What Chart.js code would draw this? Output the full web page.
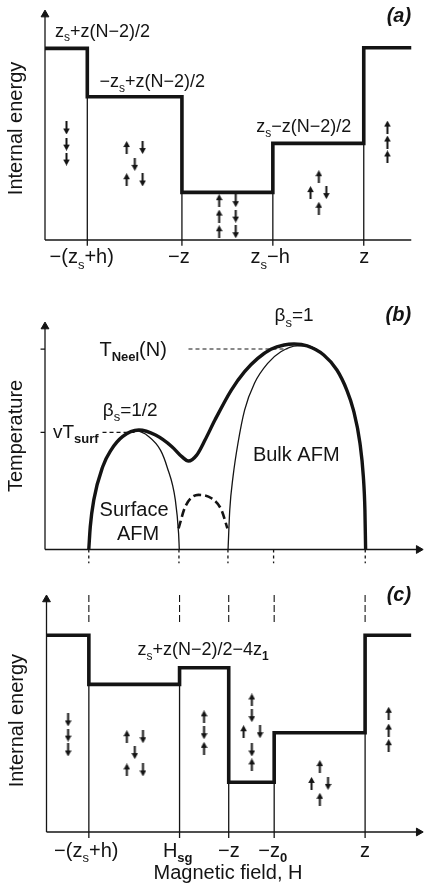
<!DOCTYPE html>
<html lang="en">
<head>
<meta charset="UTF-8">
<title>Internal energy and temperature vs magnetic field</title>
<script src="https://cdn.jsdelivr.net/npm/chart.js"></script>
<style>
  body { margin: 0; background: #fff; }
  .panel { position: absolute; left: 0; }
</style>
</head>
<body>
<canvas id="chartA" class="panel" style="top:0" width="429" height="280"></canvas>
<canvas id="chartB" class="panel" style="top:280px" width="429" height="290"></canvas>
<canvas id="chartC" class="panel" style="top:570px" width="429" height="318"></canvas>
<script>
// ---- panel (a): internal energy steps ----
const aEdges = [0, 11.4, 36.9, 61.4, 85.9, 98.7];
const aLevels = [8.33, 6.23, 2.07, 4.2, 8.36];
const aTickPos = [9.9, 36.1, 60.7, 86];
const aTickLabels = ['−(z_{s}+h)', '−z', 'z_{s}−h', 'z'];
const aUp = [[22.0, 4.02], [22.0, 2.62], [46.93, 1.71], [46.93, 1.04], [46.93, 0.36],
             [73.79, 2.75], [71.55, 2.06], [73.79, 1.38], [92.27, 4.91], [92.27, 4.26], [92.27, 3.61]];
const aDown = [[5.79, 4.87], [5.79, 4.17], [5.79, 3.52], [26.3, 4.02], [24.19, 3.29], [26.3, 2.61],
               [51.39, 1.71], [51.39, 1.04], [51.39, 0.36], [75.81, 2.06]];
const aNotes = [
  {x: 2.67, y: 9.06, text: 'z_{s}+z(N−2)/2', size: 18},
  {x: 14.67, y: 6.88, text: '−z_{s}+z(N−2)/2', size: 18},
  {x: 56.9, y: 4.9, text: 'z_{s}−z(N−2)/2', size: 18},
  {x: 98.67, y: 9.71, text: '(a)', size: 20, align: 'right', style: 'italic bold'}
];

// ---- panel (b): temperature phase diagram ----
const bSurfX = [11.8, 12.2, 13.15, 15.55, 17.79, 20.88, 24.45, 28.0, 31.12, 32.88, 35.12, 36.0, 36.19];
const bSurfY = [0, 1.0, 2.18, 3.64, 4.37, 4.96, 5.21, 4.96, 4.37, 3.64, 2.18, 0.71, 0];
const bBulkX = [49.33, 49.79, 50.67, 52.0, 53.79, 56.45, 60.0, 63.55, 68.0, 70.67, 75.12, 78.67, 81.33, 83.12, 84.88, 85.79, 86.21, 86.4];
const bBulkY = [0, 1.74, 3.2, 4.67, 6.13, 7.31, 8.18, 8.69, 8.95, 8.95, 8.55, 7.89, 7.01, 6.13, 4.67, 3.2, 1.74, 0];
const bEnvX = [11.8, 12.2, 13.15, 15.55, 17.79, 20.88, 25.3, 29.79, 34.21, 36.88, 38.67, 40.88, 43.12, 45.79, 50.21,
               53.79, 57.33, 60.88, 64.45, 67.12, 70.67, 75.12, 78.67, 81.33, 83.12, 84.88, 85.79, 86.21, 86.4];
const bEnvY = [0, 1.0, 2.18, 3.64, 4.37, 4.96, 5.25, 5.03, 4.52, 4.08, 3.89, 4.15, 4.81, 5.69, 7.01,
               7.82, 8.4, 8.8, 8.99, 9.03, 8.95, 8.55, 7.89, 7.01, 6.13, 4.67, 3.2, 1.74, 0];
const bSgX = [36.0, 37.79, 41.33, 44.88, 47.55, 49.15];
const bSgY = [0.93, 1.88, 2.4, 2.25, 1.74, 0.93];
const bTicks = [11.8, 36.1, 49.3, 61.6, 86.3];
const bLevelY = [5.15, 8.81];
const bSurfRef = [15.5, 24.4];
const bNeelRef = [38.67, 65.3];
const bNotes = [
  {x: 67.1, y: 10.26, text: 'β_{s}=1', size: 19, align: 'center'},
  {x: 98.67, y: 10.29, text: '(b)', size: 20, align: 'right', style: 'italic bold'},
  {x: 14.67, y: 8.75, text: 'T_[Neel](N)', size: 20},
  {x: 15.56, y: 6.12, text: 'β_{s}=1/2', size: 19},
  {x: 2.13, y: 5.15, text: 'vT_[surf]', size: 19},
  {x: 67.7, y: 4.15, text: 'Bulk AFM', size: 20, align: 'center'},
  {x: 24.0, y: 1.71, text: 'Surface', size: 20, align: 'center'},
  {x: 25.07, y: 0.64, text: 'AFM', size: 20, align: 'center'}
];

// ---- panel (c): internal energy with spin-flop step ----
const cEdges = [0, 11.46, 36.0, 49.3, 61.6, 86.2, 98.66];
const cLevels = [8.3, 6.23, 6.93, 2.1, 4.19, 8.3];
const cTickPos = [10.76, 35.5, 49.35, 61.2, 86.2];
const cTickLabels = ['−(z_{s}+h)', 'H_[sg]', '−z', '−z_[0]', 'z'];
const cUp = [[21.74, 4.02], [21.74, 2.62], [42.62, 4.86], [42.62, 3.53], [55.56, 5.57], [53.33, 4.23], [55.56, 2.83],
             [73.95, 2.76], [71.7, 2.05], [73.95, 1.38], [92.58, 5.01], [92.58, 4.3], [92.58, 3.64]];
const cDown = [[5.84, 4.73], [5.84, 4.09], [5.84, 3.46], [26.1, 4.02], [23.88, 3.35], [26.1, 2.62], [42.62, 4.19],
               [55.56, 4.91], [57.78, 4.23], [55.56, 3.46], [76.17, 2.05]];
const cNotes = [
  {x: 24.6, y: 7.68, text: 'z_{s}+z(N−2)/2−4z_[1]', size: 18},
  {x: 98.66, y: 9.96, text: '(c)', size: 20, align: 'right', style: 'italic bold'},
  {x: 49.1, y: -1.73, text: 'Magnetic field, H', size: 20, align: 'center'}
];

const INK = '#141414';
const FONT = '"Liberation Sans", Arial, Helvetica, sans-serif';

function arrowImage(up) {
  const c = document.createElement('canvas');
  c.width = 7; c.height = 13;
  const g = c.getContext('2d');
  g.fillStyle = INK;
  if (!up) { g.translate(0, 13); g.scale(1, -1); }
  g.beginPath();
  g.moveTo(3.5, 0); g.lineTo(6.8, 6); g.lineTo(0.2, 6);
  g.closePath(); g.fill();
  g.fillRect(2.5, 5, 2, 8);
  return c;
}
const upArrow = arrowImage(true);
const downArrow = arrowImage(false);

const pts = arr => arr.map(([x, y]) => ({x, y}));
const zip = (xs, ys) => xs.map((x, i) => ({x, y: ys[i]}));

function stepPoints(edges, levels) {
  return edges.map((x, i) => ({x, y: levels[Math.min(i, levels.length - 1)]}));
}
// vertical segments, split with null gaps
function verticals(xs, y0, tops) {
  const out = [];
  xs.forEach((x, i) => {
    out.push({x, y: y0}, {x, y: Array.isArray(tops) ? tops[i] : tops}, {x, y: null});
  });
  return out;
}
function hsegs(ys, x0, x1) {
  const out = [];
  ys.forEach(y => out.push({x: x0, y}, {x: x1, y}, {x: null, y: null}));
  return out;
}
function dividers(edges, levels) {
  const inner = edges.slice(1, levels.length);
  return verticals(inner, -0.25, inner.map((x, i) => Math.min(levels[i], levels[i + 1])));
}

function line(data, width, extra) {
  return Object.assign({data, borderColor: INK, backgroundColor: INK, borderWidth: width, pointRadius: 0,
    fill: false, clip: false, spanGaps: false, tension: 0}, extra);
}
function arrows(data, img) {
  return {data: pts(data), showLine: false, pointStyle: img, pointRadius: 4, clip: false};
}
function axisLine(data, rotations) {
  return line(data, 1.3, {pointRadius: data.map((p, i) => i === 0 ? 0 : 4.5), pointStyle: 'triangle',
    pointRotation: rotations, pointBackgroundColor: INK, pointBorderColor: INK, pointBorderWidth: 1});
}

function richText(ctx, px, py, text, size, align, style) {
  const parts = [];
  const re = /_([{\[])(.*?)[}\]]/g;
  let last = 0, m;
  while ((m = re.exec(text)) !== null) {
    if (m.index > last) parts.push({t: text.slice(last, m.index)});
    parts.push({t: m[2], sub: true, bold: m[1] === '['});
    last = re.lastIndex;
  }
  if (last < text.length) parts.push({t: text.slice(last)});
  const subSize = Math.round(size * 0.66);
  const fontOf = p => p.sub ? `${p.bold ? 'bold ' : ''}${subSize}px ${FONT}` : `${style || ''} ${size}px ${FONT}`;
  let total = 0;
  parts.forEach(p => { ctx.font = fontOf(p); p.w = ctx.measureText(p.t).width; total += p.w; });
  let x = align === 'center' ? px - total / 2 : align === 'right' ? px - total : px;
  ctx.textAlign = 'left';
  ctx.textBaseline = 'middle';
  ctx.fillStyle = INK;
  parts.forEach(p => {
    ctx.font = fontOf(p);
    ctx.fillText(p.t, x, p.sub ? py + size * 0.36 : py);
    x += p.w;
  });
}

function textLayer(items, title) {
  return {
    id: 'textLayer',
    afterDatasetsDraw(chart) {
      const {ctx, scales: {x, y}} = chart;
      ctx.save();
      items.forEach(it => richText(ctx, x.getPixelForValue(it.x), y.getPixelForValue(it.y),
        it.text, it.size || 18, it.align || 'left', it.style));
      if (title) {
        ctx.translate(x.getPixelForValue(title.x), y.getPixelForValue(title.y));
        ctx.rotate(-Math.PI / 2);
        richText(ctx, 0, 0, title.text, 20, 'center');
      }
      ctx.restore();
    }
  };
}

function options(pad) {
  return {
    responsive: false,
    animation: false,
    events: [],
    layout: {padding: pad},
    plugins: {legend: {display: false}, tooltip: {enabled: false}},
    scales: {
      x: {type: 'linear', min: 0, max: 102, display: false},
      y: {type: 'linear', min: 0, max: 10, display: false}
    }
  };
}

function tickNotes(pos, labels, y) {
  return pos.map((x, i) => ({x, y, text: labels[i], size: 20, align: 'center'}));
}

// (a)
new Chart(document.getElementById('chartA'), {
  type: 'line',
  data: {
    datasets: [
      axisLine([{x: 0, y: 0}, {x: 0, y: 9.8}], [0, 0]),
      line([{x: 0, y: 0}, {x: 98.7, y: 0}], 1.3),
      line(dividers(aEdges, aLevels), 1.3),
      line(stepPoints(aEdges, aLevels), 3.6, {stepped: 'before', borderJoinStyle: 'miter'}),
      arrows(aUp, upArrow),
      arrows(aDown, downArrow)
    ]
  },
  options: options({left: 45, right: 1.5, top: 10, bottom: 40}),
  plugins: [textLayer(aNotes.concat(tickNotes(aTickPos, aTickLabels, -0.78)),
    {x: -7.7, y: 4.85, text: 'Internal energy'})]
});

// (b)
new Chart(document.getElementById('chartB'), {
  type: 'line',
  data: {
    datasets: [
      axisLine([{x: 0, y: 0}, {x: 0, y: 9.8}], [0, 0]),
      axisLine([{x: 0, y: 0}, {x: 100.7, y: 0}], [0, 90]),
      line(verticals(bTicks, 0, -0.6), 1.3, {borderDash: [3, 3]}),
      line(hsegs(bLevelY, -1.2, 0), 1.2),
      line(hsegs([bLevelY[0]], bSurfRef[0], bSurfRef[1]), 1.1, {borderDash: [4, 3]}),
      line(hsegs([bLevelY[1]], bNeelRef[0], bNeelRef[1]), 1.1, {borderDash: [4, 3]}),
      line(zip(bSurfX, bSurfY), 1.3, {cubicInterpolationMode: 'monotone'}),
      line(zip(bBulkX, bBulkY), 1.3, {cubicInterpolationMode: 'monotone'}),
      line(zip(bSgX, bSgY), 2.6, {cubicInterpolationMode: 'monotone', borderDash: [8, 4]}),
      line(zip(bEnvX, bEnvY), 3.4, {cubicInterpolationMode: 'monotone'})
    ]
  },
  options: options({left: 45, right: 1.5, top: 42, bottom: 20.5}),
  plugins: [textLayer(bNotes, {x: -7.7, y: 4.99, text: 'Temperature'})]
});

// (c)
new Chart(document.getElementById('chartC'), {
  type: 'line',
  data: {
    datasets: [
      axisLine([{x: 0, y: 0}, {x: 0, y: 9.81}], [0, 0]),
      axisLine([{x: 0, y: 0}, {x: 100.7, y: 0}], [0, 90]),
      line(verticals(cEdges.slice(1, -1), 8.86, 10.13), 1.1, {borderDash: [7, 3]}),
      line(dividers(cEdges, cLevels), 1.3),
      line(stepPoints(cEdges, cLevels), 3.6, {stepped: 'before', borderJoinStyle: 'miter'}),
      arrows(cUp, upArrow),
      arrows(cDown, downArrow)
    ]
  },
  options: options({left: 46.5, right: 1.5, top: 25, bottom: 56}),
  plugins: [textLayer(cNotes.concat(tickNotes(cTickPos, cTickLabels, -0.83)),
    {x: -7.9, y: 4.7, text: 'Internal energy'})]
});
</script>
</body>
</html>
